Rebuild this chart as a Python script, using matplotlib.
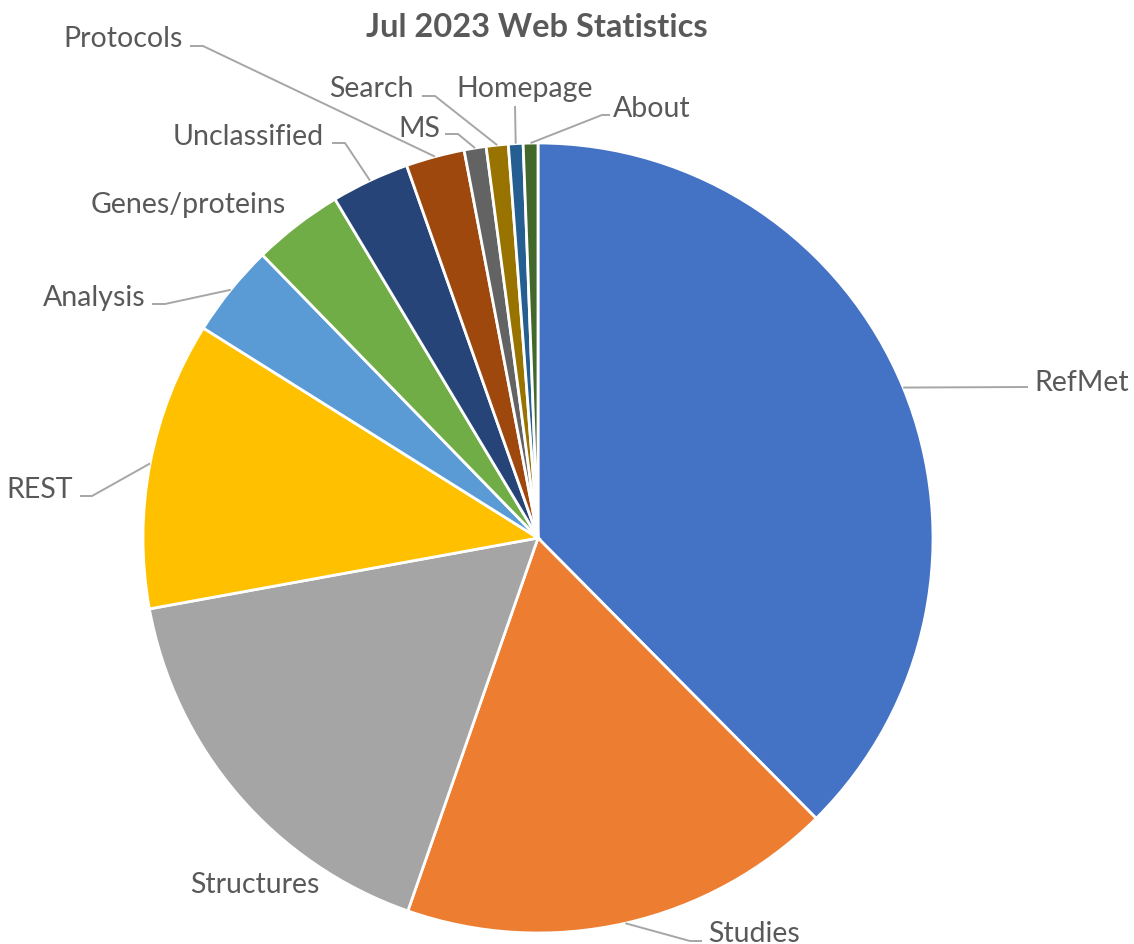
import matplotlib.pyplot as plt
import numpy as np

plt.rcParams['font.family'] = ['Lato', 'DejaVu Sans']

title = 'Jul 2023 Web Statistics'
categories = ['RefMet', 'Studies', 'Structures', 'REST', 'Analysis', 'Genes/proteins',
              'Unclassified', 'Protocols', 'MS', 'Search', 'Homepage', 'About']
shares = [37.6, 17.8, 16.8, 11.8, 3.8, 3.7, 3.2, 2.4, 0.9, 0.9, 0.6, 0.6]
colors = ['#4472C4', '#ED7D31', '#A5A5A5', '#FFC000', '#5B9BD5', '#70AD47',
          '#264478', '#9E480E', '#636363', '#997300', '#255E91', '#43682B']

# label placement in pixels from the top-left: (x, baseline y, alignment)
label_xy = {
    'RefMet': (1034, 391, 'left'),
    'Studies': (708, 942, 'left'),
    'Structures': (255, 893, 'center'),
    'REST': (73, 498, 'right'),
    'Analysis': (146, 306, 'right'),
    'Genes/proteins': (188, 213, 'center'),
    'Unclassified': (324, 145, 'right'),
    'Protocols': (183, 47, 'right'),
    'MS': (440, 137, 'right'),
    'Search': (414, 97, 'right'),
    'Homepage': (525, 97, 'center'),
    'About': (613, 117, 'left'),
}
# leader line points from the label back toward the slice (None = no leader)
leaders = {
    'RefMet': [(1028, 388)],
    'Studies': [(702, 942), (690, 942)],
    'REST': [(80, 497), (92, 497)],
    'Analysis': [(152, 305), (165, 305)],
    'Unclassified': [(332, 144), (345, 144)],
    'Protocols': [(190, 47), (203, 47)],
    'MS': [(445, 135), (458, 135)],
    'Search': [(422, 97), (435, 97)],
    'Homepage': [(515, 107)],
    'About': [(610, 116), (602, 116)],
}

W, H = 1134, 945
cx, cy, r = 538, 539, 395
text_color = '#595959'

fig = plt.figure(figsize=(W / 100, H / 100), dpi=100)
ax = fig.add_axes([0, 0, 1, 1])

# y axis runs downward, so counterclock=True turns clockwise on screen
wedges, _ = ax.pie(shares, colors=colors, startangle=-90, counterclock=True,
                   center=(cx, cy), radius=r,
                   wedgeprops=dict(edgecolor='white', linewidth=2.0))
ax.set_xlim(0, W)
ax.set_ylim(H, 0)
ax.set_aspect('equal')
ax.axis('off')

for w, name in zip(wedges, categories):
    x, y, ha = label_xy[name]
    ax.text(x, y, name, ha=ha, va='baseline', fontsize=20.5, color=text_color)
    pts = leaders.get(name)
    if pts:
        mid = np.deg2rad((w.theta1 + w.theta2) / 2)
        rim = (cx + r * np.cos(mid), cy + r * np.sin(mid))
        xs = [p[0] for p in pts] + [rim[0]]
        ys = [p[1] for p in pts] + [rim[1]]
        ax.plot(xs, ys, color='#A6A6A6', lw=1.4, solid_capstyle='butt')

ax.text(537, 37, title, ha='center', va='baseline', fontsize=23.5,
        fontweight='bold', color=text_color)

fig.savefig('out.png', dpi=100)
